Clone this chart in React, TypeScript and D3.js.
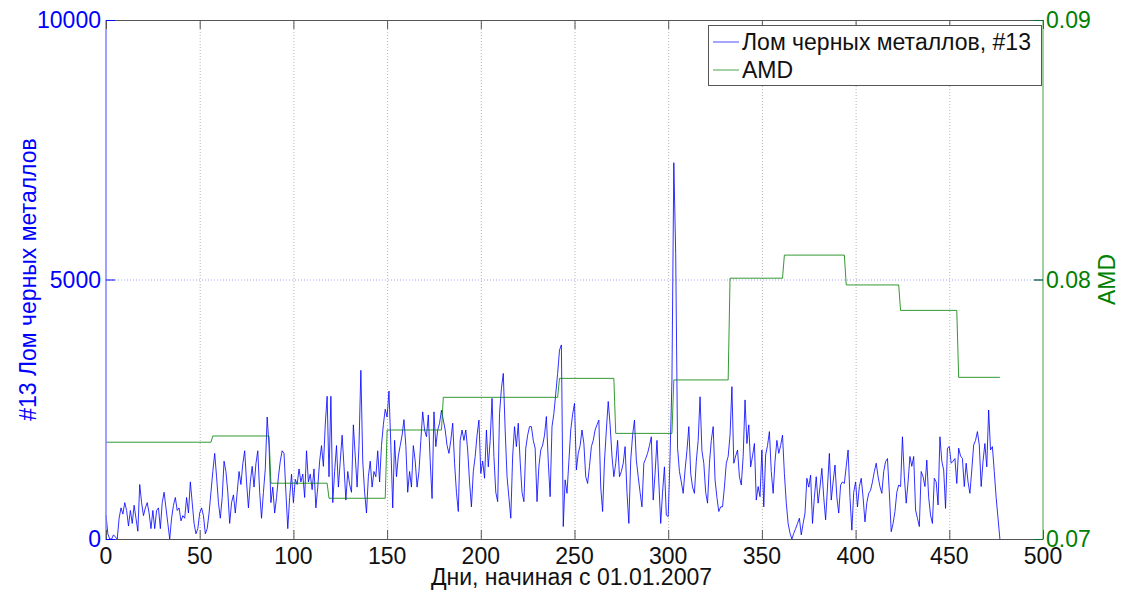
import React from 'react';
import * as d3 from 'd3';

const WIDTH = 1126;
const HEIGHT = 597;

// Daily volume of ferrous scrap (#13), day 0 = 01.01.2007
const scrapVolume: number[] = [
  460, 100, 0, 0, 80, 40, 0, 400, 600, 480,
  700, 550, 250, 550, 300, 650, 400, 150, 1050, 700,
  450, 600, 700, 500, 200, 550, 200, 550, 600, 200,
  700, 900, 600, 300, 0, 400, 650, 800, 550, 600,
  350, 450, 400, 800, 500, 1100, 700, 300, 100, 200,
  500, 600, 450, 100, 200, 500, 900, 1300, 1650, 1200,
  700, 400, 800, 1500, 1300, 900, 300, 700, 850, 500,
  900, 1300, 1050, 1450, 1700, 1100, 600, 1100, 1400, 1000,
  1450, 1700, 900, 400, 900, 1350, 2350, 1800, 700, 1000,
  500, 800, 1200, 1500, 1700, 1650, 900, 200, 800, 1250,
  700, 1150, 1050, 1350, 1100, 1250, 800, 1700, 1100, 1250,
  950, 1350, 600, 1000, 1500, 1800, 1400, 2200, 2750, 1200,
  2750, 700, 1300, 1800, 1000, 1500, 2000, 1400, 750, 1300,
  1050, 900, 2200, 1600, 1000, 1800, 3250, 1500, 900, 500,
  1200, 1500, 1000, 1300, 1200, 1700, 1100, 1800, 2200, 2500,
  2350, 2850, 1800, 600, 1900, 1200, 1600, 1800, 2000, 2300,
  1800, 900, 1300, 1000, 1800, 1500, 1000, 1300, 1900, 2450,
  2100, 1970, 2390, 1500, 780, 2450, 1780, 2100, 2230, 2480,
  2290, 2100, 1800, 1650, 1900, 2230, 1460, 900, 530, 1900,
  2100, 1900, 2100, 1715, 1100, 620, 1300, 1590, 2000, 2290,
  1265, 1500, 1170, 2100, 1390, 1900, 2710, 1590, 900, 720,
  2420, 2900, 3190, 2100, 1200, 800, 400, 1600, 2165, 1780,
  2230, 1500, 900, 720, 1750, 2000, 2165, 2165, 1900, 1750,
  720, 1400, 1715, 1810, 2000, 2360, 1500, 815, 2165, 2420,
  2800, 3190, 3640, 3740, 240, 1140, 880, 1500, 2100, 2400,
  2615, 1330, 1650, 1800, 2100, 1840, 1200, 1070, 1400, 1780,
  1900, 2100, 2200, 2290, 1000, 530, 1500, 2100, 2650, 2200,
  1600, 1200, 1460, 1900, 1200, 1300, 1460, 1780, 900, 300,
  1520, 2000, 2290, 1520, 1200, 900, 620, 1460, 1550, 1650,
  1800, 1970, 750, 1265, 1900, 1100, 300, 900, 1390, 460,
  430, 1590, 3060, 7250, 5500, 1750, 1300, 1100, 880, 1330,
  1700, 2165, 1265, 1000, 880, 1500, 1900, 2740, 1700, 1460,
  900, 690, 1460, 1900, 2165, 1140, 800, 530, 620, 620,
  1000, 1460, 1590, 2000, 2935, 1460, 1600, 1715, 1200, 1040,
  1590, 2680, 1840, 2200, 1390, 1600, 1840, 750, 1010, 815,
  1715, 620, 1620, 1800, 2070, 1300, 880, 1500, 1900, 1650,
  1800, 2000, 1265, 700, 300, 110, 0, 110, 200, 300,
  400, 80, 300, 500, 1170, 1000, 1230, 300, 800, 1200,
  690, 1000, 1360, 800, 370, 1000, 1650, 750, 1100, 1425,
  800, 500, 1040, 1100, 1070, 1400, 1715, 800, 170, 900,
  1100, 620, 1010, 1170, 800, 330, 700, 880, 940, 1100,
  1300, 1460, 1200, 1010, 880, 1300, 1490, 1550, 900, 140,
  300, 530, 900, 1040, 1010, 1970, 1200, 690, 1100, 1590,
  1400, 1590, 560, 400, 240, 1300, 1200, 1010, 1520, 800,
  460, 300, 1170, 1100, 655, 1970, 1500, 1330, 590, 1750,
  1780, 1460, 1500, 1550, 1070, 1750, 1600, 1550, 1010, 1460,
  1100, 880, 1330, 1810, 1900, 2070, 1810, 1010, 1500, 1840,
  1390, 2485, 1715, 1780, 1300, 800, 400, 0,
];

// AMD: monthly level, each level starts on the given day
const amdStepStarts: number[] = [0, 57, 88, 119, 150, 180, 242, 272, 303, 333, 362, 395, 424, 455];
const amdLevels: number[] = [
  0.07373, 0.07397, 0.07215, 0.07157, 0.0742, 0.07546, 0.07619,
  0.07407, 0.07613, 0.08005, 0.08094, 0.07979, 0.07881, 0.07623,
];
const amdLastDay = 477;

const xTicks: number[] = [0, 50, 100, 150, 200, 250, 300, 350, 400, 450, 500];
const leftTicks: number[] = [0, 5000, 10000];
const rightTicks: number[] = [0.07, 0.08, 0.09];
const rightTickLabels: string[] = ['0.07', '0.08', '0.09'];

const seriesNames: string[] = ['Лом черных металлов, #13', 'AMD'];
const xTitle = 'Дни, начиная с 01.01.2007';
const leftTitle = '#13 Лом черных металлов';
const rightTitle = 'AMD';

const BLUE = '#0000ff';
const GREEN = '#008000';
const FONT = '"Liberation Sans", Arial, Helvetica, sans-serif';

export default function App() {
  const plot = { left: 106, right: 1043, top: 20, bottom: 539 };
  const x = d3.scaleLinear().domain([0, 500]).range([plot.left, plot.right]);
  const yL = d3.scaleLinear().domain([0, 10000]).range([plot.bottom, plot.top]);
  const yR = d3.scaleLinear().domain([0.07, 0.09]).range([plot.bottom, plot.top]);

  const scrapPath = d3
    .line<number>()
    .x((_, i) => x(i))
    .y((d) => yL(d))(scrapVolume) as string;

  const amdPoints: [number, number][] = [];
  amdStepStarts.forEach((start, i) => {
    const end = i + 1 < amdStepStarts.length ? amdStepStarts[i + 1] - 1 : amdLastDay;
    amdPoints.push([start, amdLevels[i]], [end, amdLevels[i]]);
  });
  const amdPath = d3
    .line<[number, number]>()
    .x((d) => x(d[0]))
    .y((d) => yR(d[1]))(amdPoints) as string;

  const tickLen = 9;
  const fs = 23;
  const midY = (plot.top + plot.bottom) / 2;

  return (
    <svg
      width={WIDTH}
      height={HEIGHT}
      style={{ position: 'absolute', left: 0, top: 0, background: '#fff' }}
      fontFamily={FONT}
    >
      <rect x={0} y={0} width={WIDTH} height={HEIGHT} fill="#fff" />

      {/* vertical grid */}
      {xTicks
        .filter((t) => t > 0 && t < 500)
        .map((t) => (
          <line
            key={'gx' + t}
            x1={x(t) + 0.5}
            x2={x(t) + 0.5}
            y1={plot.top}
            y2={plot.bottom}
            stroke="#b4b4b4"
            strokeWidth={1}
            strokeDasharray="1,2"
          />
        ))}
      {/* horizontal grid */}
      {leftTicks
        .filter((t) => t > 0 && t < 10000)
        .map((t) => (
          <line
            key={'gy' + t}
            x1={plot.left}
            x2={plot.right}
            y1={yL(t) + 0.5}
            y2={yL(t) + 0.5}
            stroke="#a0a0ff"
            strokeWidth={1}
            strokeDasharray="1,2"
          />
        ))}

      {/* data */}
      <path d={scrapPath} fill="none" stroke={BLUE} strokeWidth={0.9} strokeLinejoin="round" opacity={0.9} />
      <path d={amdPath} fill="none" stroke={GREEN} strokeWidth={1} opacity={0.8} />

      {/* axes frame */}
      <line x1={plot.left} x2={plot.right} y1={plot.top + 0.5} y2={plot.top + 0.5} stroke="#555" />
      <line x1={plot.left} x2={plot.right} y1={plot.bottom + 0.5} y2={plot.bottom + 0.5} stroke="#555" />
      <line x1={plot.left} x2={plot.left} y1={plot.top} y2={plot.bottom + 1} stroke="#8080ff" strokeWidth={1.5} />
      <line x1={plot.right} x2={plot.right} y1={plot.top} y2={plot.bottom + 1} stroke="#80c080" strokeWidth={1.5} />

      {/* x ticks */}
      {xTicks.map((t) => (
        <g key={'xt' + t}>
          <line x1={x(t) + 0.5} x2={x(t) + 0.5} y1={plot.bottom} y2={plot.bottom - tickLen} stroke="#555" />
          <line x1={x(t) + 0.5} x2={x(t) + 0.5} y1={plot.top} y2={plot.top + tickLen} stroke="#555" />
          <text x={x(t)} y={563.5} fontSize={fs} textAnchor="middle" fill="#111">
            {t}
          </text>
        </g>
      ))}

      {/* left ticks */}
      {leftTicks.map((t) => (
        <g key={'lt' + t}>
          <line x1={plot.left} x2={plot.left + tickLen} y1={yL(t) + 0.5} y2={yL(t) + 0.5} stroke={BLUE} />
          <line x1={plot.right} x2={plot.right - tickLen} y1={yL(t) + 0.5} y2={yL(t) + 0.5} stroke="#2040a0" />
          <text x={plot.left - 5} y={yL(t)} fontSize={fs} textAnchor="end" dominantBaseline="central" fill={BLUE}>
            {t}
          </text>
        </g>
      ))}

      {/* right ticks */}
      {rightTicks.map((t, i) => (
        <g key={'rt' + t}>
          <line x1={plot.right} x2={plot.right - tickLen} y1={yR(t) + 0.5} y2={yR(t) + 0.5} stroke={GREEN} opacity={0.7} />
          <text x={plot.right + 3} y={yR(t)} fontSize={fs} textAnchor="start" dominantBaseline="central" fill={GREEN}>
            {rightTickLabels[i]}
          </text>
        </g>
      ))}

      {/* axis titles */}
      <text x={(plot.left + plot.right) / 2 - 3} y={585} fontSize={fs} textAnchor="middle" fill="#111">
        {xTitle}
      </text>
      <text
        transform={`translate(36, ${midY}) rotate(-90)`}
        fontSize={fs}
        textAnchor="middle"
        fill={BLUE}
      >
        {leftTitle}
      </text>
      <text
        transform={`translate(1115, ${midY}) rotate(-90)`}
        fontSize={fs}
        textAnchor="middle"
        fill={GREEN}
      >
        {rightTitle}
      </text>

      {/* legend */}
      <g>
        <rect x={708.5} y={25.5} width={333} height={60} fill="#fff" stroke="#555" />
        {seriesNames.map((name, i) => (
          <g key={name}>
            <line
              x1={713}
              x2={739}
              y1={42 + i * 28}
              y2={42 + i * 28}
              stroke={i === 0 ? BLUE : GREEN}
              strokeWidth={1}
              opacity={0.7}
            />
            <text x={742} y={42 + i * 28} fontSize={fs} dominantBaseline="central" fill="#111">
              {name}
            </text>
          </g>
        ))}
      </g>
    </svg>
  );
}
